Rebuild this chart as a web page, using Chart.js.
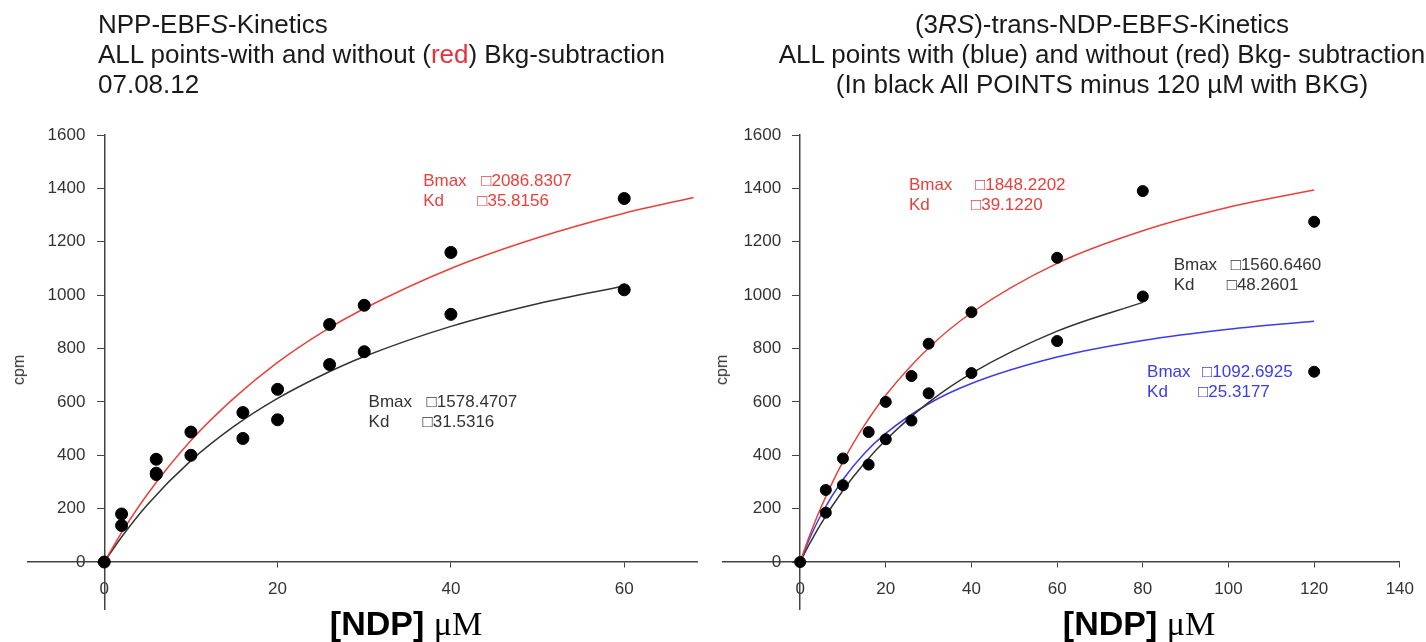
<!DOCTYPE html>
<html lang="en">
<head>
<meta charset="UTF-8">
<title>NDP-EBFS Kinetics</title>
<style>
    body {
        margin: 0;
        background: #fff;
        font-family: Arial, "Liberation Sans", sans-serif;
    }
    #page {
        position: relative;
        width: 1426px;
        height: 642px;
        overflow: hidden;
    }
    canvas {
        position: absolute;
        top: 0;
    }
    .title {
        position: absolute;
        font-size: 26px;
        line-height: 30px;
        color: #1a1a1a;
        white-space: nowrap;
    }
    .red { color: #e8303a; }
    .cpm {
        position: absolute;
        font-size: 16px;
        color: #333;
        transform: translate(-50%, -50%) rotate(-90deg);
    }
    .xlab {
        position: absolute;
        top: 603px;
        font-size: 34px;
        line-height: 40px;
        color: #000;
        white-space: nowrap;
        transform: translateX(-50%);
    }
    .xlab b { font-family: Arial, "Liberation Sans", sans-serif; }
    .xlab span { font-family: "Liberation Serif", "Times New Roman", serif; }
</style>
</head>
<body>
<div id="page">
    <canvas id="leftChart" width="713" height="642" style="left:0"></canvas>
    <canvas id="rightChart" width="713" height="642" style="left:713px"></canvas>

    <div class="title" style="left:98px; top:9px">
        NPP-EBF<i>S</i>-Kinetics<br>
        ALL points-with and without (<span class="red">red</span>) Bkg-subtraction<br>
        07.08.12
    </div>
    <div class="title" style="left:713px; top:9px; width:778px; text-align:center">
        (3<i>RS</i>)-trans-NDP-EBF<i>S</i>-Kinetics<br>
        ALL points with (blue) and without (red) Bkg- subtraction<br>
        (In black All POINTS minus 120 &micro;M with BKG)
    </div>

    <div class="cpm" style="left:19px; top:370px">cpm</div>
    <div class="cpm" style="left:722px; top:370px">cpm</div>

    <div class="xlab" style="left:406px"><b>[NDP]</b> <span>&mu;M</span></div>
    <div class="xlab" style="left:1139px"><b>[NDP]</b> <span>&mu;M</span></div>
</div>

<script src="https://cdn.jsdelivr.net/npm/chart.js"></script>
<script>
    // ---- left panel: NPP-EBFS ----
    const leftPointX = [0, 2, 2, 6, 6, 6, 10, 10, 16, 16, 20, 20, 26, 26, 30, 30, 40, 40, 60, 60];
    const leftPointY = [0, 180, 137, 385, 333, 328, 487, 400, 560, 463, 647, 533, 890, 740, 962, 788, 1160, 928, 1362, 1020];

    // fitted curves
    const leftRedX = [0, 2, 5, 10, 15, 20, 25, 30, 40, 50, 60, 68];
    const leftRedY = [0, 110, 255, 455, 615, 748, 858, 950, 1100, 1215, 1307, 1366];
    const leftBlackX = [0, 2, 5, 10, 15, 20, 25, 30, 40, 50, 60];
    const leftBlackY = [0, 94, 216, 380, 509, 613, 698, 770, 883, 968, 1034];

    const leftFitBmax = ['2086.8307', '1578.4707'];
    const leftFitKd = ['35.8156', '31.5316'];

    // ---- right panel: (3RS)-trans-NDP-EBFS ----
    const rightPointX = [0, 6, 6, 10, 10, 16, 16, 20, 20, 26, 26, 30, 30, 40, 40, 60, 60, 80, 80, 120, 120];
    const rightPointY = [0, 270, 185, 388, 288, 487, 365, 600, 460, 697, 530, 818, 632, 936, 708, 1140, 828, 1390, 995, 1275, 713];

    const rightRedX = [0, 2, 5, 10, 15, 20, 30, 40, 60, 80, 100, 120];
    const rightRedY = [0, 90, 209, 376, 512, 625, 802, 934, 1119, 1241, 1329, 1394];
    const rightBlackX = [0, 2, 5, 10, 15, 20, 30, 40, 60, 80];
    const rightBlackY = [0, 62, 147, 268, 370, 457, 598, 707, 865, 973];
    const rightBlueX = [0, 2, 5, 10, 15, 20, 30, 40, 60, 80, 100, 120];
    const rightBlueY = [0, 80, 180, 309, 407, 482, 593, 669, 768, 830, 872, 902];

    const rightFitBmax = ['1848.2202', '1560.6460', '1092.6925'];
    const rightFitKd = ['39.1220', '48.2601', '25.3177'];

    const yTicks = [0, 200, 400, 600, 800, 1000, 1200, 1400, 1600];

    const RED = '#e8413c';
    const BLACK = '#333333';
    const BLUE = '#3c3cec';
    const FONT = 'Arial, "Liberation Sans", sans-serif';

    function pairs(xs, ys) {
        return xs.map((x, i) => ({ x: x, y: ys[i] }));
    }

    function curve(xs, ys, color) {
        return {
            data: pairs(xs, ys),
            showLine: true,
            borderColor: color,
            borderWidth: 1.5,
            pointRadius: 0,
            cubicInterpolationMode: 'monotone',
            fill: false
        };
    }

    // draws the Bmax / Kd boxes at data coordinates
    const fitLabels = {
        id: 'fitLabels',
        afterDatasetsDraw(chart, args, opts) {
            const ctx = chart.ctx;
            const sx = chart.scales.x, sy = chart.scales.y;
            ctx.save();
            ctx.font = '17px ' + FONT;
            ctx.textBaseline = 'middle';
            opts.items.forEach(a => {
                const px = sx.getPixelForValue(a.x);
                const py = sy.getPixelForValue(a.y);
                ctx.fillStyle = a.color;
                ctx.fillText('Bmax', px, py);
                ctx.fillText('\u25A1' + a.bmax, px + a.gap, py);
                ctx.fillText('Kd', px, py + 20);
                ctx.fillText('\u25A1' + a.kd, px + a.gap - 4, py + 20);
            });
            ctx.restore();
        }
    };

    function makeChart(id, xMin, xMax, xStep, points, radius, curves, pad, labels) {
        const axisCommon = {
            type: 'linear',
            grid: { display: true, drawOnChartArea: false, drawTicks: true, color: '#444' },
            border: { display: true, color: '#444', width: 1.5 },
            ticks: { color: '#333', font: { family: FONT, size: 17 } }
        };
        return new Chart(document.getElementById(id), {
            type: 'scatter',
            data: {
                datasets: [{
                    data: points,
                    backgroundColor: '#000',
                    borderColor: '#000',
                    pointRadius: radius,
                    showLine: false
                }].concat(curves)
            },
            options: {
                responsive: false,
                animation: false,
                devicePixelRatio: 1,
                layout: { padding: pad },
                plugins: {
                    legend: { display: false },
                    tooltip: { enabled: false },
                    fitLabels: { items: labels }
                },
                scales: {
                    x: Object.assign({}, axisCommon, {
                        min: xMin,
                        max: xMax,
                        position: { y: 0 },
                        grid: Object.assign({}, axisCommon.grid, { tickLength: 5 }),
                        ticks: Object.assign({}, axisCommon.ticks, { stepSize: xStep, padding: 12 }),
                        afterBuildTicks: s => {
                            s.ticks = s.ticks.filter(t => t.value >= 0 && Math.abs(t.value % xStep) < 1e-6);
                        }
                    }),
                    y: Object.assign({}, axisCommon, {
                        min: -176,
                        max: 1600,
                        position: { x: 0 },
                        grid: Object.assign({}, axisCommon.grid, { tickLength: 7 }),
                        // labels sit on the axis when it is positioned, so pad them with spaces
                        ticks: Object.assign({}, axisCommon.ticks, { stepSize: 200, callback: v => v + '    ' }),
                        afterBuildTicks: s => {
                            s.ticks = yTicks.map(v => ({ value: v }));
                        }
                    })
                }
            },
            plugins: [fitLabels]
        });
    }

    makeChart('leftChart', -8.8, 68.4, 20,
        pairs(leftPointX, leftPointY), 6,
        [curve(leftRedX, leftRedY, RED), curve(leftBlackX, leftBlackY, BLACK)],
        { left: 28, right: 16, top: 135, bottom: 33 },
        [
            { x: 36.8, y: 1425, color: RED, gap: 58, bmax: leftFitBmax[0], kd: leftFitKd[0] },
            { x: 30.5, y: 600, color: BLACK, gap: 58, bmax: leftFitBmax[1], kd: leftFitKd[1] }
        ]);

    makeChart('rightChart', -18, 140, 20,
        pairs(rightPointX, rightPointY), 5.5,
        [curve(rightRedX, rightRedY, RED), curve(rightBlackX, rightBlackY, BLACK), curve(rightBlueX, rightBlueY, BLUE)],
        { left: 10, right: 24, top: 135, bottom: 33 },
        [
            { x: 25.4, y: 1410, color: RED, gap: 66, bmax: rightFitBmax[0], kd: rightFitKd[0] },
            { x: 87.2, y: 1110, color: BLACK, gap: 57, bmax: rightFitBmax[1], kd: rightFitKd[1] },
            { x: 81.0, y: 711, color: BLUE, gap: 55, bmax: rightFitBmax[2], kd: rightFitKd[2] }
        ]);
</script>
</body>
</html>
